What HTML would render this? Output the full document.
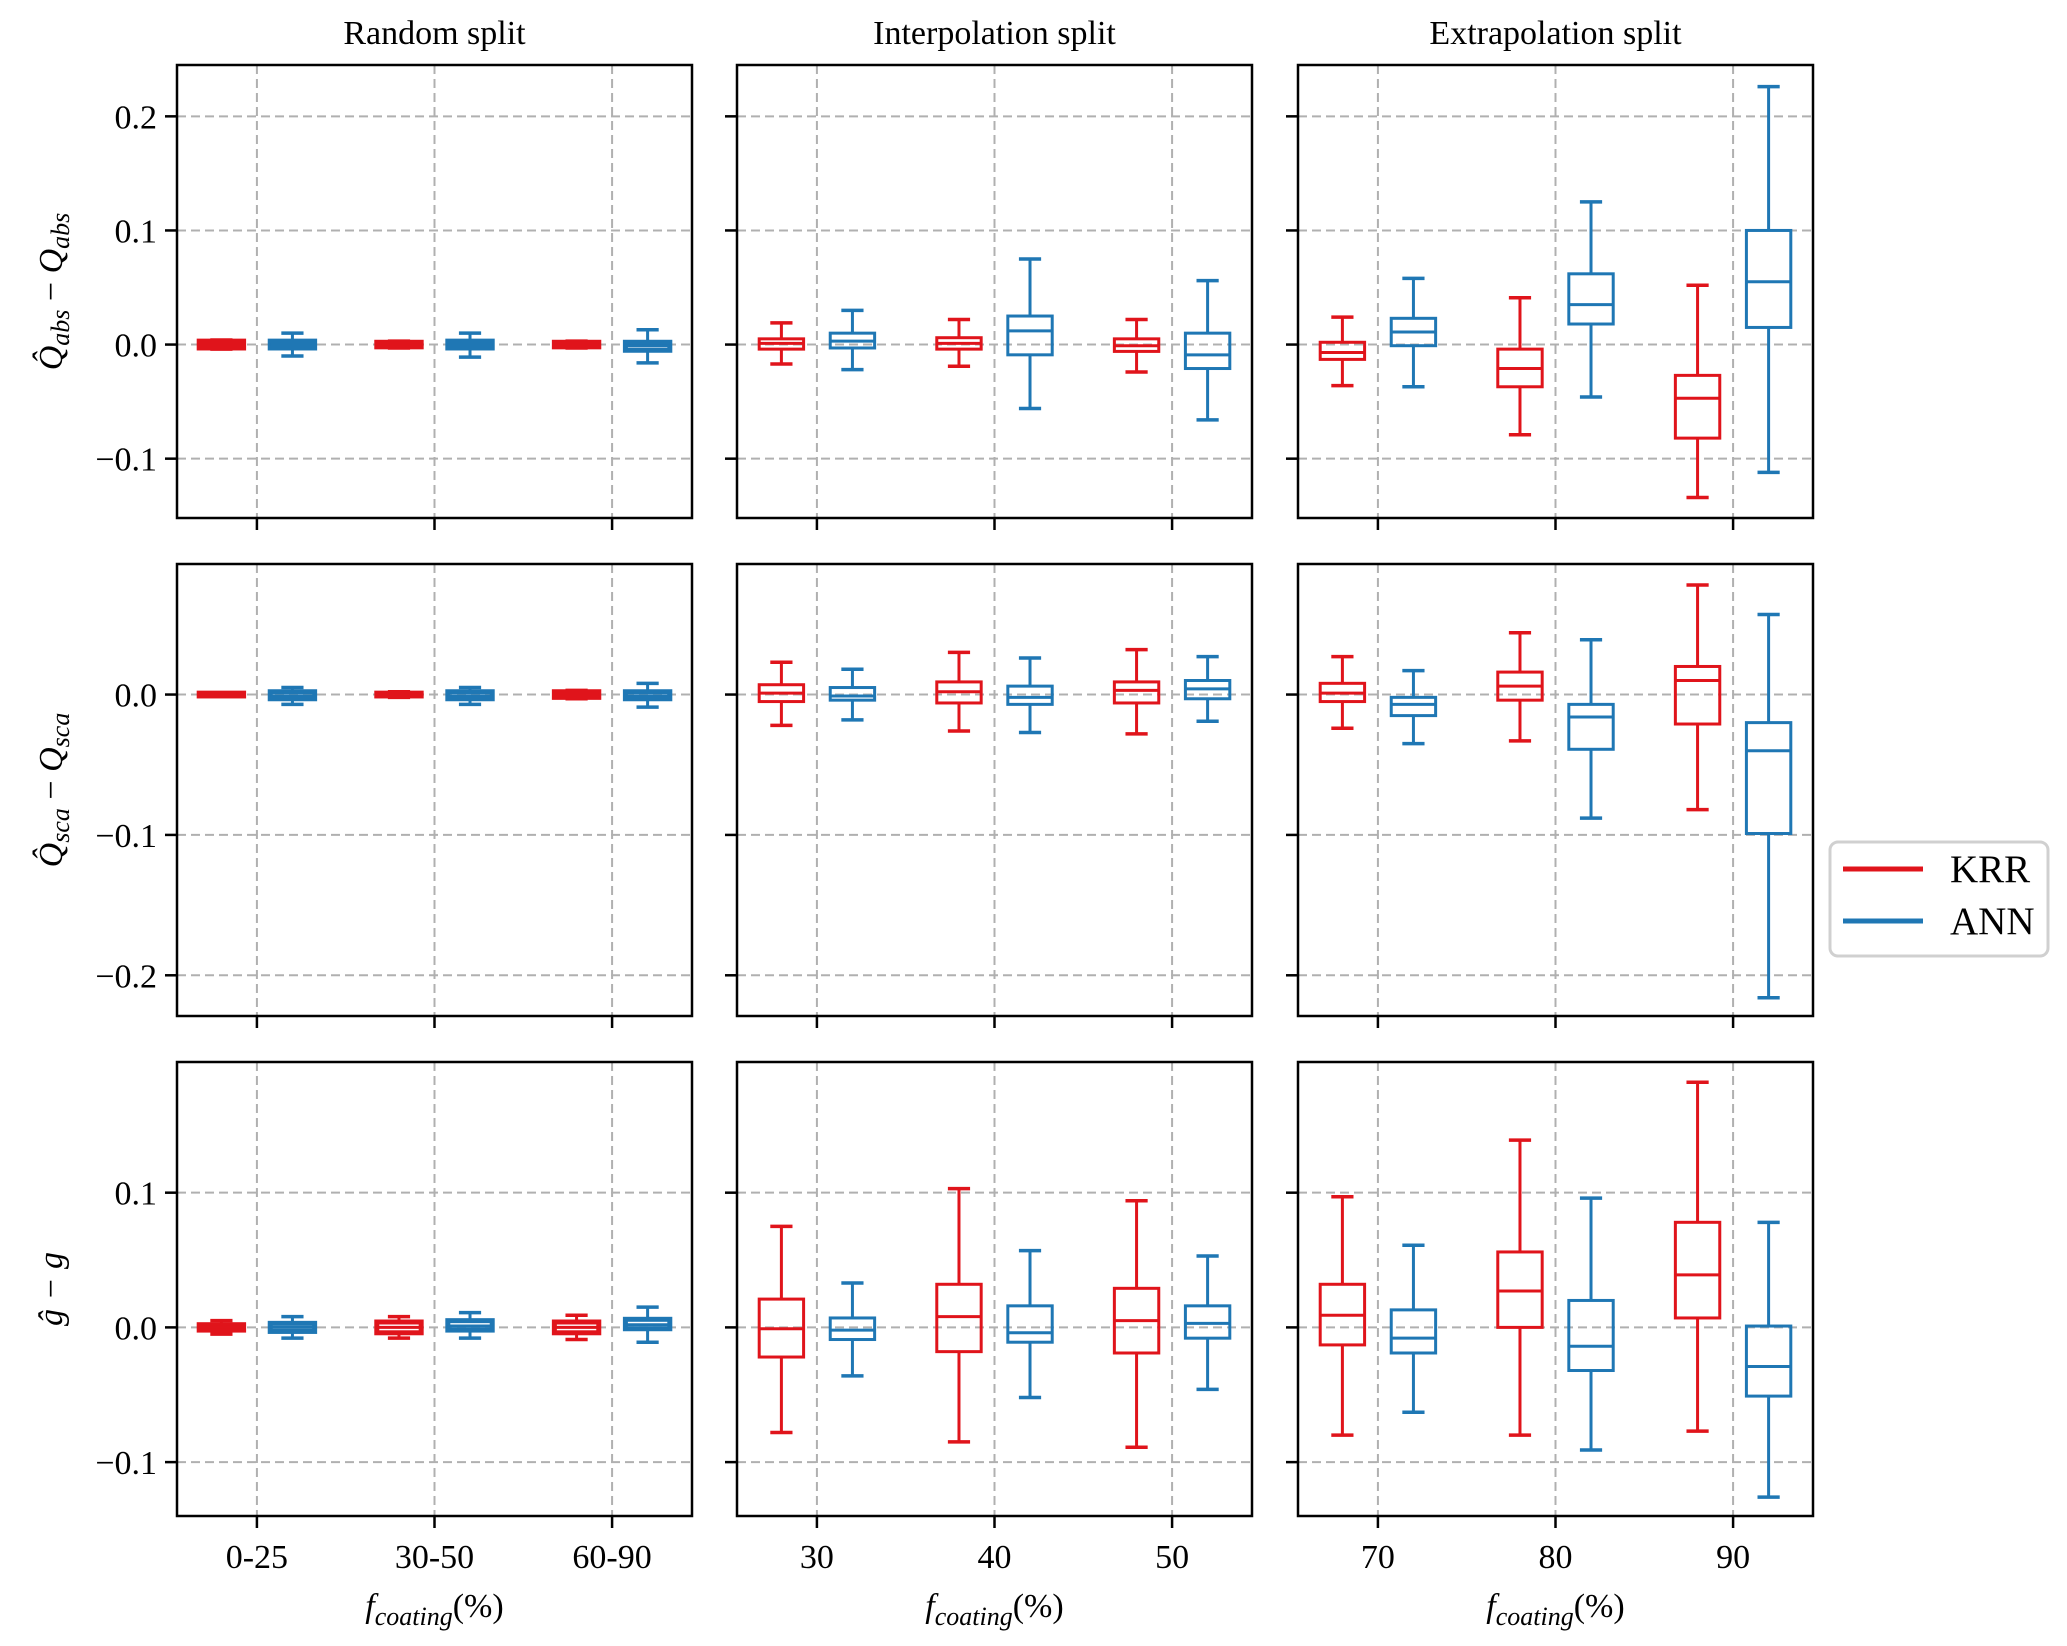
<!DOCTYPE html>
<html><head><meta charset="utf-8">
<style>
html,body{margin:0;padding:0;background:#fff;}
svg{display:block;font-family:"Liberation Serif","DejaVu Serif",serif;}
</style></head>
<body>
<svg id="chart" width="2067" height="1646" viewBox="0 0 2067 1646" xmlns="http://www.w3.org/2000/svg">
<g id="layer"></g>
<g>
  <rect x="1830" y="842" width="218" height="114" rx="8" fill="#fff" stroke="#d0d0d0" stroke-width="3"/>
  <line x1="1843" y1="869" x2="1923" y2="869" stroke="#e0141b" stroke-width="5"/>
  <text x="1950" y="882" font-size="39">KRR</text>
  <line x1="1843" y1="921" x2="1923" y2="921" stroke="#1f77b4" stroke-width="5"/>
  <text x="1950" y="934" font-size="39">ANN</text>
</g>
</svg>
<script>
const colTitles = ["Random split","Interpolation split","Extrapolation split"];
const colTickLabels = [["0-25","30-50","60-90"],["30","40","50"],["70","80","90"]];
const rowTicks = [[-0.1,0,0.1,0.2],[-0.2,-0.1,0],[-0.1,0,0.1]];
const rowLims = [[-0.152,0.245],[-0.229,0.093],[-0.140,0.197]];
const krr_r1 = [
  [[-0.004,-0.003,0,0.003,0.004],[-0.003,-0.002,0,0.002,0.003],[-0.003,-0.002,0,0.002,0.003]],
  [[-0.017,-0.004,0.001,0.005,0.019],[-0.019,-0.004,0.001,0.006,0.022],[-0.024,-0.006,-0.001,0.005,0.022]],
  [[-0.036,-0.013,-0.007,0.002,0.024],[-0.079,-0.037,-0.021,-0.004,0.041],[-0.134,-0.082,-0.047,-0.027,0.052]]
];
const ann_r1 = [
  [[-0.010,-0.003,0,0.003,0.010],[-0.011,-0.003,0,0.003,0.010],[-0.016,-0.005,-0.001,0.002,0.013]],
  [[-0.022,-0.003,0.003,0.010,0.030],[-0.056,-0.009,0.012,0.025,0.075],[-0.066,-0.021,-0.009,0.010,0.056]],
  [[-0.037,-0.001,0.011,0.023,0.058],[-0.046,0.018,0.035,0.062,0.125],[-0.112,0.015,0.055,0.100,0.226]]
];
const krr_r2 = [
  [[-0.001,-0.001,0,0.001,0.001],[-0.002,-0.001,0,0.001,0.002],[-0.003,-0.002,0,0.002,0.003]],
  [[-0.022,-0.005,0.001,0.007,0.023],[-0.026,-0.006,0.002,0.009,0.030],[-0.028,-0.006,0.003,0.009,0.032]],
  [[-0.024,-0.005,0.001,0.008,0.027],[-0.033,-0.004,0.006,0.016,0.044],[-0.082,-0.021,0.010,0.020,0.078]]
];
const ann_r2 = [
  [[-0.007,-0.003,-0.001,0.002,0.005],[-0.007,-0.003,-0.001,0.002,0.005],[-0.009,-0.003,-0.001,0.002,0.008]],
  [[-0.018,-0.004,-0.001,0.005,0.018],[-0.027,-0.007,-0.002,0.006,0.026],[-0.019,-0.003,0.004,0.010,0.027]],
  [[-0.035,-0.015,-0.007,-0.002,0.017],[-0.088,-0.039,-0.016,-0.007,0.039],[-0.216,-0.099,-0.040,-0.020,0.057]]
];
const krr_r3 = [
  [[-0.005,-0.002,0,0.002,0.005],[-0.008,-0.004,0,0.004,0.008],[-0.009,-0.004,0,0.004,0.009]],
  [[-0.078,-0.022,-0.001,0.021,0.075],[-0.085,-0.018,0.008,0.032,0.103],[-0.089,-0.019,0.005,0.029,0.094]],
  [[-0.080,-0.013,0.009,0.032,0.097],[-0.080,0.000,0.027,0.056,0.139],[-0.077,0.007,0.039,0.078,0.182]]
];
const ann_r3 = [
  [[-0.008,-0.003,0,0.003,0.008],[-0.008,-0.002,0.001,0.005,0.011],[-0.011,-0.001,0.002,0.006,0.015]],
  [[-0.036,-0.009,-0.002,0.007,0.033],[-0.052,-0.011,-0.004,0.016,0.057],[-0.046,-0.008,0.003,0.016,0.053]],
  [[-0.063,-0.019,-0.008,0.013,0.061],[-0.091,-0.032,-0.014,0.020,0.096],[-0.126,-0.051,-0.029,0.001,0.078]]
];
const krrData = [krr_r1, krr_r2, krr_r3];
const annData = [ann_r1, ann_r2, ann_r3];

const NS = "http://www.w3.org/2000/svg";
const layer = document.getElementById("layer");
const colX = [[177,692],[737,1252],[1298,1813]];
const rowY = [[65,518],[564,1016],[1062,1516]];
const RED = "#e0141b", BLUE = "#1f77b4";
const XMIN = -0.45, XMAX = 2.45;

function mk(tag, attrs, parent){
  const e = document.createElementNS(NS, tag);
  for (const k in attrs) e.setAttribute(k, attrs[k]);
  (parent||layer).appendChild(e);
  return e;
}

for (let r=0;r<3;r++){
  for (let c=0;c<3;c++){
    const [x0,x1] = colX[c], [y0,y1] = rowY[r];
    const [lo,hi] = rowLims[r];
    const sx = v => x0 + (v - XMIN)/(XMAX - XMIN)*(x1-x0);
    const sy = v => y1 - (v - lo)/(hi - lo)*(y1-y0);
    const g = mk("g", {});
    
    
    for (let i=0;i<3;i++){
      const l = mk("line",{x1:sx(i),x2:sx(i),y1:y0,y2:y1,stroke:"#b0b0b0","stroke-width":2,"stroke-dasharray":"9,5"},g);
      
      
      const t = mk("line",{x1:sx(i),x2:sx(i),y1:y1,y2:y1+12,stroke:"#000","stroke-width":2.5},g);
      
      
      if (r===2){
        const tl = mk("text",{x:sx(i),y:1568,"font-size":34,"text-anchor":"middle"},g);
        tl.textContent = colTickLabels[c][i];
        
        
      }
    }
    for (const v of rowTicks[r]){
      const l = mk("line",{x1:x0,x2:x1,y1:sy(v),y2:sy(v),stroke:"#b0b0b0","stroke-width":2,"stroke-dasharray":"9,5"},g);
      
      
      const t = mk("line",{x1:x0-12,x2:x0,y1:sy(v),y2:sy(v),stroke:"#000","stroke-width":2.5},g);
      
      
      if (c===0){
        const tl = mk("text",{x:x0-20,y:sy(v)+12,"font-size":34,"text-anchor":"end"},g);
        tl.textContent = (v<0?"\u2212":"") + Math.abs(v).toFixed(1);
        
        
      }
    }
    const series = [[krrData[r][c], RED, -0.2, 'krr'], [annData[r][c], BLUE, 0.2, 'ann']];
    for (const [data,col,off,nm] of series){
      for (let i=0;i<3;i++){
        const [wl,q1,md,q3,wh] = data[i];
        const cx = sx(i+off), bw = (sx(0.125)-sx(0)), cw = bw/2;
        const sw = c===0 ? 5 : 3;
        const bg = mk("g",{stroke:col,"stroke-width":sw,fill:"none"},g);
        
        
        mk("line",{x1:cx,x2:cx,y1:sy(q3),y2:sy(wh),"stroke-width":3},bg);
        mk("line",{x1:cx,x2:cx,y1:sy(q1),y2:sy(wl),"stroke-width":3},bg);
        mk("line",{x1:cx-cw,x2:cx+cw,y1:sy(wh),y2:sy(wh),"stroke-width":3.5},bg);
        mk("line",{x1:cx-cw,x2:cx+cw,y1:sy(wl),y2:sy(wl),"stroke-width":3.5},bg);
        mk("rect",{x:cx-bw,y:sy(q3),width:2*bw,height:Math.max(sy(q1)-sy(q3),0.5)},bg);
        mk("line",{x1:cx-bw,x2:cx+bw,y1:sy(md),y2:sy(md),"stroke-width":3},bg);
      }
    }
    const fr = mk("rect",{x:x0,y:y0,width:x1-x0,height:y1-y0,fill:"none",stroke:"#000","stroke-width":2.5},g);
    
    
  }
}
for (let c=0;c<3;c++){
  const cx = (colX[c][0]+colX[c][1])/2;
  const t = mk("text",{x:cx,y:44,"font-size":34,"text-anchor":"middle"});
  t.textContent = colTitles[c];
  
  
  const xl = mk("text",{x:cx,y:1617,"font-size":34,"text-anchor":"middle"});
  xl.innerHTML = '<tspan font-style="italic">f</tspan><tspan font-style="italic" font-size="26" dy="8">coating</tspan><tspan dy="-8">(%)</tspan>';
  
  
}
const ylabels = [
  '<tspan font-style="italic">Q\u0302</tspan><tspan font-style="italic" font-size="26" dy="7">abs</tspan><tspan dy="-7"> \u2212 </tspan><tspan font-style="italic">Q</tspan><tspan font-style="italic" font-size="26" dy="7">abs</tspan>',
  '<tspan font-style="italic">Q\u0302</tspan><tspan font-style="italic" font-size="26" dy="7">sca</tspan><tspan dy="-7"> \u2212 </tspan><tspan font-style="italic">Q</tspan><tspan font-style="italic" font-size="26" dy="7">sca</tspan>',
  '<tspan font-style="italic">\u011D \u2212 g</tspan>'
];
for (let r=0;r<3;r++){
  const cy = (rowY[r][0]+rowY[r][1])/2;
  const yl = mk("text",{x:0,y:0,"font-size":34,"text-anchor":"middle",transform:`translate(62,${cy}) rotate(-90)`});
  yl.innerHTML = ylabels[r];
  
  
}
</script>
</body></html>
